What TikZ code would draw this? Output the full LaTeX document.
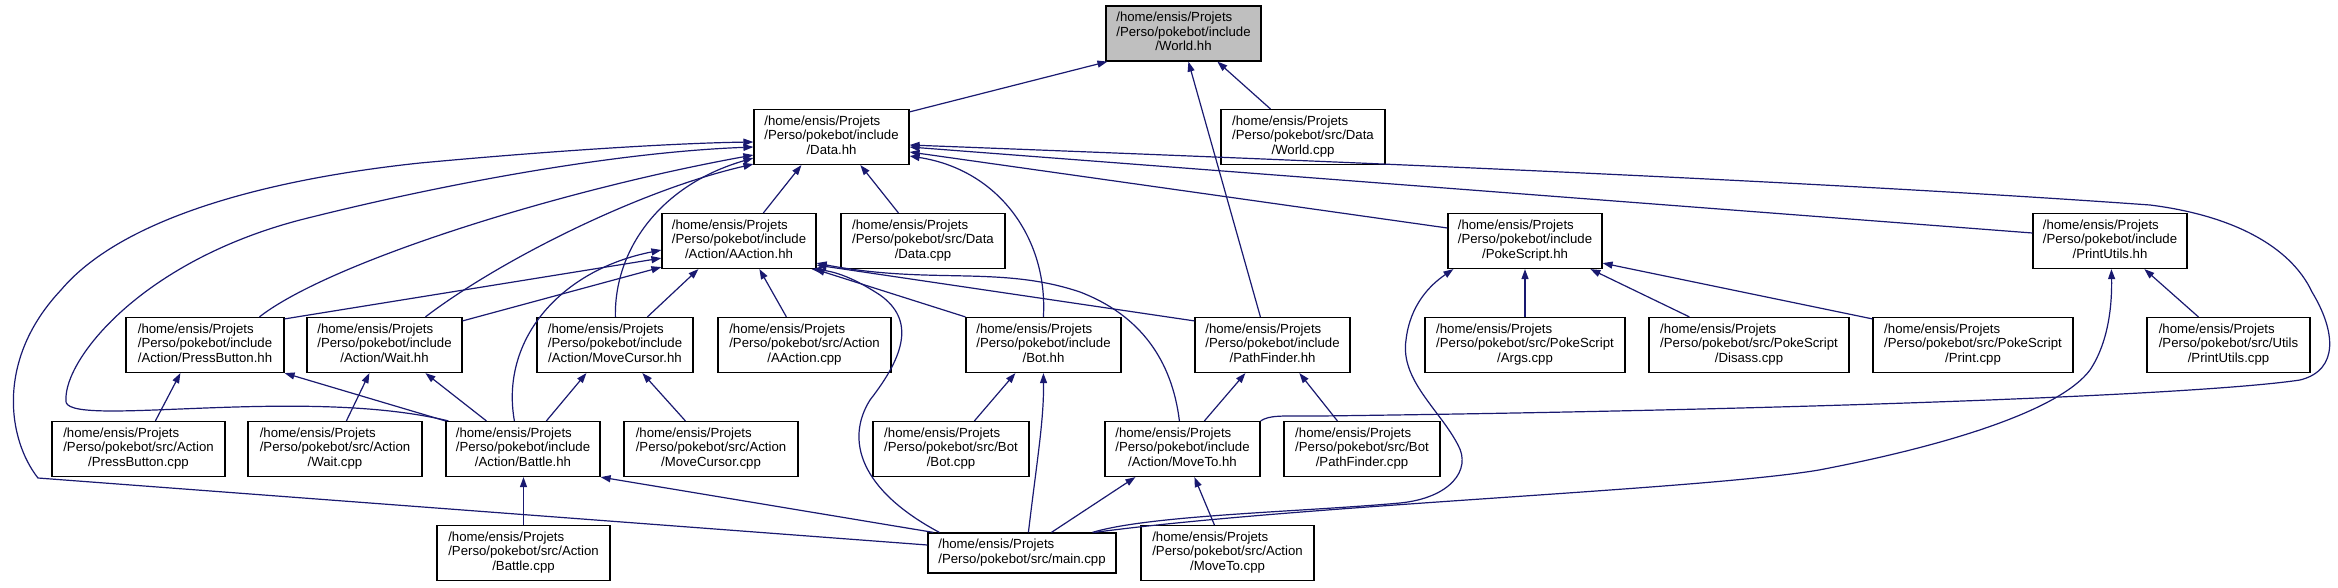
\documentclass[tikz,border=0pt]{standalone}
\usepackage{fontspec}
\setmainfont{Liberation Sans}
\usetikzlibrary{arrows.meta,calc}
\definecolor{edgeblue}{HTML}{191970}
\definecolor{rootgray}{HTML}{BFBFBF}
\newcommand{\lbl}[3]{\begin{tabular}{@{}l@{}}#1\\#2\\\multicolumn{1}{@{}c@{}}{#3}\end{tabular}}
\newcommand{\lbltwo}[2]{\begin{tabular}{@{}l@{}}#1\\#2\end{tabular}}
\tikzset{
 filebox/.style={draw=black, line width=1.2pt, fill=white, inner sep=0pt, minimum height=55pt, font=\fontsize{13.2}{14.5}\selectfont},
 rootbox/.style={filebox, fill=rootgray},
 dep/.style={draw=edgeblue, line width=1.2pt, -{Triangle[length=10pt,width=7pt]}},
}
\begin{document}
\begin{tikzpicture}[x=1pt,y=-1pt]
\fill[white] (0,0) rectangle (2338,587);
\useasboundingbox (0,0) rectangle (2338,587);
% row 0
\node[rootbox, minimum width=155pt] (world) at (1183.5,33.5) {\lbl{/home/ensis/Projets}{/Perso/pokebot/include}{/World.hh}};
% row 1
\node[filebox, minimum width=155pt] (data) at (831.5,137) {\lbl{/home/ensis/Projets}{/Perso/pokebot/include}{/Data.hh}};
\node[filebox, minimum width=164pt] (worldcpp) at (1303,137) {\lbl{/home/ensis/Projets}{/Perso/pokebot/src/Data}{/World.cpp}};
% row 2
\node[filebox, minimum width=154pt] (aaction) at (739,241) {\lbl{/home/ensis/Projets}{/Perso/pokebot/include}{/Action/AAction.hh}};
\node[filebox, minimum width=164pt] (datacpp) at (923,241) {\lbl{/home/ensis/Projets}{/Perso/pokebot/src/Data}{/Data.cpp}};
\node[filebox, minimum width=154pt] (pokescript) at (1525,241) {\lbl{/home/ensis/Projets}{/Perso/pokebot/include}{/PokeScript.hh}};
\node[filebox, minimum width=154pt] (printutils) at (2110,241) {\lbl{/home/ensis/Projets}{/Perso/pokebot/include}{/PrintUtils.hh}};
% row 3
\node[filebox, minimum width=158pt] (pressbutton) at (205,345) {\lbl{/home/ensis/Projets}{/Perso/pokebot/include}{/Action/PressButton.hh}};
\node[filebox, minimum width=155pt] (wait) at (384.5,345) {\lbl{/home/ensis/Projets}{/Perso/pokebot/include}{/Action/Wait.hh}};
\node[filebox, minimum width=156pt] (movecursor) at (615,345) {\lbl{/home/ensis/Projets}{/Perso/pokebot/include}{/Action/MoveCursor.hh}};
\node[filebox, minimum width=173pt] (aactioncpp) at (804.5,345) {\lbl{/home/ensis/Projets}{/Perso/pokebot/src/Action}{/AAction.cpp}};
\node[filebox, minimum width=155pt] (bot) at (1043.5,345) {\lbl{/home/ensis/Projets}{/Perso/pokebot/include}{/Bot.hh}};
\node[filebox, minimum width=155pt] (pathfinder) at (1272.5,345) {\lbl{/home/ensis/Projets}{/Perso/pokebot/include}{/PathFinder.hh}};
\node[filebox, minimum width=200pt] (args) at (1525,345) {\lbl{/home/ensis/Projets}{/Perso/pokebot/src/PokeScript}{/Args.cpp}};
\node[filebox, minimum width=200pt] (disass) at (1749,345) {\lbl{/home/ensis/Projets}{/Perso/pokebot/src/PokeScript}{/Disass.cpp}};
\node[filebox, minimum width=200pt] (print) at (1973,345) {\lbl{/home/ensis/Projets}{/Perso/pokebot/src/PokeScript}{/Print.cpp}};
\node[filebox, minimum width=163pt] (printutilscpp) at (2228.5,345) {\lbl{/home/ensis/Projets}{/Perso/pokebot/src/Utils}{/PrintUtils.cpp}};
% row 4
\node[filebox, minimum width=173pt] (pressbuttoncpp) at (138.5,449) {\lbl{/home/ensis/Projets}{/Perso/pokebot/src/Action}{/PressButton.cpp}};
\node[filebox, minimum width=174pt] (waitcpp) at (335,449) {\lbl{/home/ensis/Projets}{/Perso/pokebot/src/Action}{/Wait.cpp}};
\node[filebox, minimum width=154pt] (battle) at (523,449) {\lbl{/home/ensis/Projets}{/Perso/pokebot/include}{/Action/Battle.hh}};
\node[filebox, minimum width=174pt] (movecursorcpp) at (711,449) {\lbl{/home/ensis/Projets}{/Perso/pokebot/src/Action}{/MoveCursor.cpp}};
\node[filebox, minimum width=156pt] (botcpp) at (951,449) {\lbl{/home/ensis/Projets}{/Perso/pokebot/src/Bot}{/Bot.cpp}};
\node[filebox, minimum width=155pt] (moveto) at (1182.5,449) {\lbl{/home/ensis/Projets}{/Perso/pokebot/include}{/Action/MoveTo.hh}};
\node[filebox, minimum width=156pt] (pathfindercpp) at (1362,449) {\lbl{/home/ensis/Projets}{/Perso/pokebot/src/Bot}{/PathFinder.cpp}};
% row 5
\node[filebox, minimum width=173pt] (battlecpp) at (523.5,553) {\lbl{/home/ensis/Projets}{/Perso/pokebot/src/Action}{/Battle.cpp}};
\node[filebox, minimum width=188pt, minimum height=40pt] (main) at (1022,553) {\lbltwo{/home/ensis/Projets}{/Perso/pokebot/src/main.cpp}};
\node[filebox, minimum width=173pt] (movetocpp) at (1227.5,553) {\lbl{/home/ensis/Projets}{/Perso/pokebot/src/Action}{/MoveTo.cpp}};

% edges to World.hh
\draw[dep] ($(data.north east)+(0,3)$) -- ($(world.south west)+(2,0)$);
\draw[dep] ($(worldcpp.north west)+(50,0)$) -- ($(world.south west)+(112,0)$);
\draw[dep] ($(pathfinder.north west)+(66,0)$) -- ($(world.south west)+(83,0)$);
% edges to Data.hh
\draw[dep] ($(aaction.north west)+(102,0)$) -- ($(data.south west)+(48,0)$);
\draw[dep] ($(datacpp.north west)+(58,0)$) -- ($(data.south west)+(107,0)$);
\draw[dep] ($(pressbutton.north west)+(134,0)$) .. controls (330,262) and (560,190) .. ($(data.west)+(0,18)$);
\draw[dep] ($(wait.north west)+(119,0)$) .. controls (500,260) and (640,190) .. ($(data.south west)+(0,-1)$);
\draw[dep] ($(movecursor.north west)+(79,0)$) .. controls (614,250) and (660,185) .. ($(data.west)+(0,21)$);
\draw[dep] ($(battle.north west)+(3,0)$) .. controls (300,385) and (60,430) .. (66,400) .. controls (64,360) and (140,262) .. (300,220) .. controls (450,182) and (620,152) .. ($(data.west)+(0,10)$);
\draw[dep] ($(main.west)+(0,-8)$) -- (38,478) .. controls (8,440) and (-5,360) .. (61,290) .. controls (120,220) and (260,180) .. (420,163) .. controls (560,150) and (680,143) .. ($(data.west)+(0,5)$);
\draw[dep] ($(bot.north west)+(78,0)$) .. controls (1048,240) and (1000,170) .. ($(data.east)+(0,19)$);
\draw[dep] ($(pokescript.west)+(0,-13)$) -- ($(data.east)+(0,15)$);
\draw[dep] ($(printutils.west)+(0,-8)$) -- ($(data.east)+(0,10)$);
\draw[dep] (moveto.north east) .. controls (1270,415) and (1280,416) .. (1320,416) .. controls (1800,410) and (2200,395) .. (2300,380) .. controls (2340,370) and (2335,330) .. (2312,292) .. controls (2290,245) and (2230,215) .. (2150,205) .. controls (1800,180) and (1300,160) .. ($(data.east)+(0,8)$);
% edges to AAction.hh
\draw[dep] ($(aactioncpp.north west)+(69,0)$) -- ($(aaction.south west)+(98,0)$);
\draw[dep] ($(pressbutton.north east)+(0,2)$) -- ($(aaction.south west)+(0,-11)$);
\draw[dep] ($(wait.north east)+(0,4)$) -- ($(aaction.south west)+(0,-2)$);
\draw[dep] ($(movecursor.north west)+(111,0)$) -- ($(aaction.south west)+(37,0)$);
\draw[dep] ($(battle.north west)+(69,0)$) .. controls (500,340) and (560,270) .. ($(aaction.west)+(0,9)$);
\draw[dep] (bot.north west) -- ($(aaction.south east)+(-2,0)$);
\draw[dep] ($(pathfinder.north west)+(0,4)$) -- ($(aaction.south east)+(0,-4)$);
\draw[dep] ($(moveto.north west)+(75,0)$) .. controls (1172,360) and (1140,315) .. (1080,292) .. controls (1000,265) and (930,285) .. ($(aaction.south east)+(0,-6)$);
\draw[dep] ($(main.north west)+(12,0)$) .. controls (860,490) and (845,440) .. (870,400) .. controls (905,355) and (915,320) .. (880,295) .. controls (860,282) and (840,272) .. ($(aaction.south east)+(-5,0)$);
% edges to Battle.hh
\draw[dep] ($(main.north west)+(6,0)$) -- (battle.south east);
\draw[dep] (battlecpp.north) -- (battlecpp.north |- battle.south);
% edges to PressButton.hh, Wait.hh, MoveCursor.hh
\draw[dep] ($(pressbuttoncpp.north west)+(104,0)$) -- ($(pressbutton.south west)+(55,0)$);
\draw[dep] (battle.north west) -- (pressbutton.south east);
\draw[dep] ($(waitcpp.north west)+(99,0)$) -- ($(wait.south west)+(63,0)$);
\draw[dep] ($(battle.north west)+(41,0)$) -- ($(wait.south west)+(119,0)$);
\draw[dep] ($(battle.north west)+(101,0)$) -- ($(movecursor.south west)+(50,0)$);
\draw[dep] ($(movecursorcpp.north west)+(62,0)$) -- ($(movecursor.south west)+(106,0)$);
% edges to Bot.hh, PathFinder.hh, MoveTo.hh
\draw[dep] ($(botcpp.north west)+(102,0)$) -- ($(bot.south west)+(50,0)$);
\draw[dep] ($(main.north west)+(101,0)$) .. controls (1037,460) and (1044,420) .. ($(bot.south west)+(78,0)$);
\draw[dep] ($(moveto.north west)+(100,0)$) -- ($(pathfinder.south west)+(51,0)$);
\draw[dep] ($(pathfindercpp.north west)+(54,0)$) -- ($(pathfinder.south west)+(105,0)$);
\draw[dep] ($(main.north west)+(124,0)$) -- ($(moveto.south west)+(31,0)$);
\draw[dep] ($(movetocpp.north west)+(74,0)$) -- ($(moveto.south west)+(90,0)$);
% edges to PokeScript.hh
\draw[dep] (args.north) -- (args.north |- pokescript.south);
\draw[dep] ($(disass.north west)+(41,0)$) -- ($(pokescript.south west)+(143,0)$);
\draw[dep] ($(print.north west)+(0,2)$) -- ($(pokescript.south east)+(0,-6)$);
\draw[dep] ($(main.north west)+(165,0)$) .. controls (1150,515) and (1300,512) .. (1400,503) .. controls (1450,498) and (1472,470) .. (1458,445) .. controls (1440,410) and (1400,380) .. (1406,340) .. controls (1410,305) and (1430,285) .. ($(pokescript.south west)+(6,0)$);
% edges to PrintUtils.hh
\draw[dep] ($(main.north west)+(167,0)$) .. controls (1300,505) and (1700,490) .. (1819,470) .. controls (1950,445) and (2060,410) .. (2090,370) .. controls (2110,340) and (2112,300) .. ($(printutils.south west)+(79,0)$);
\draw[dep] ($(printutilscpp.north west)+(52,0)$) -- ($(printutils.south west)+(112,0)$);
\end{tikzpicture}
\end{document}
